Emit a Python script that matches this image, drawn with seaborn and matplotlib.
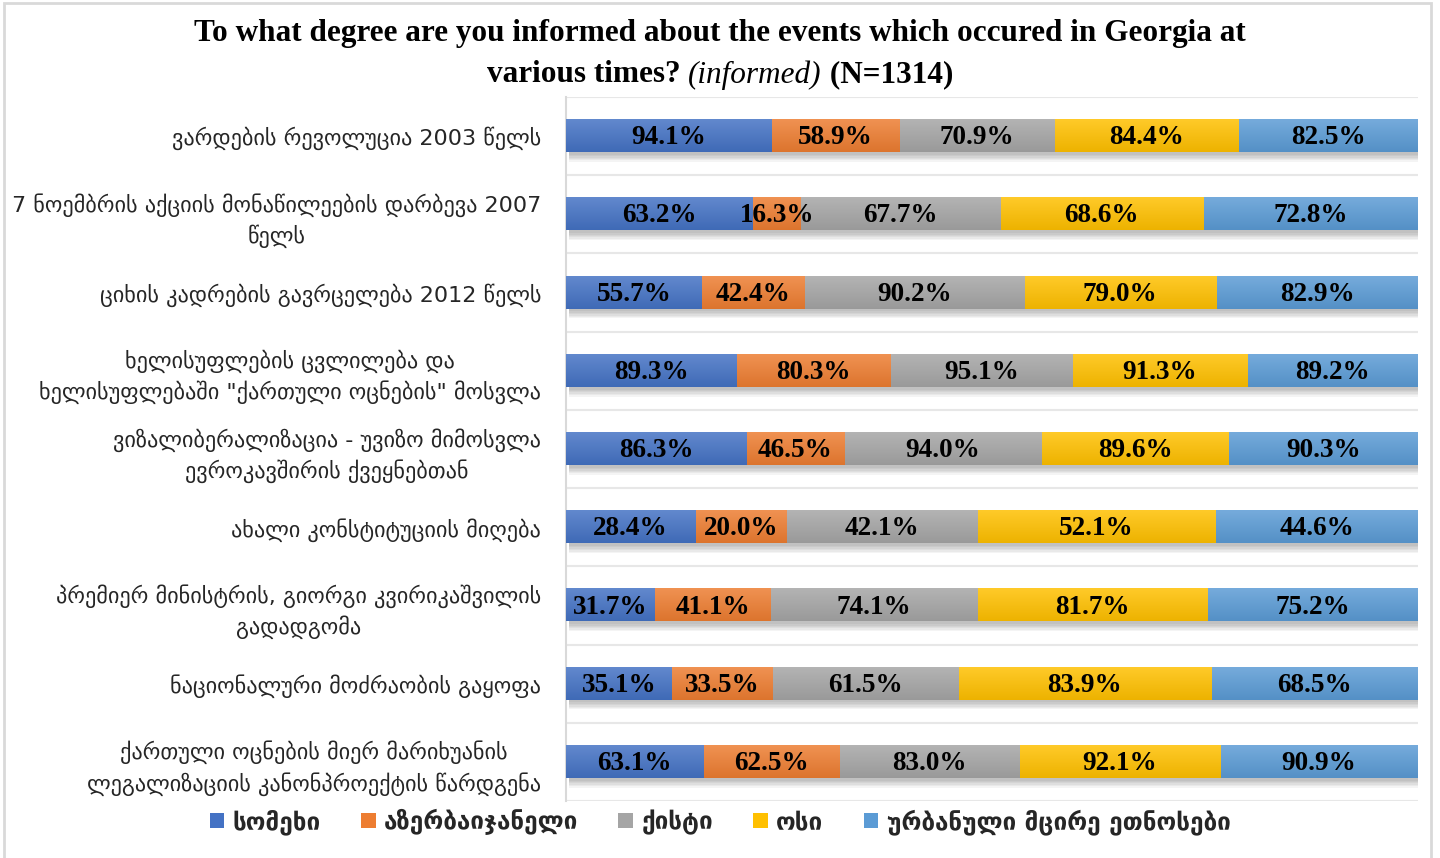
import numpy as np
import pandas as pd
import matplotlib
matplotlib.use("Agg")
import matplotlib.pyplot as plt
import matplotlib.patheffects as pe
from matplotlib.colors import LinearSegmentedColormap, to_rgb
from matplotlib.patches import Rectangle, Patch
import seaborn as sns

# ---- data -------------------------------------------------------------
events = [
    "ვარდების რევოლუცია 2003 წელს",
    "7 ნოემბრის აქციის მონაწილეების დარბევა 2007\nწელს",
    "ციხის კადრების გავრცელება 2012 წელს",
    "ხელისუფლების ცვლილება და\nხელისუფლებაში \"ქართული ოცნების\" მოსვლა",
    "ვიზალიბერალიზაცია - უვიზო მიმოსვლა\nევროკავშირის ქვეყნებთან",
    "ახალი კონსტიტუციის მიღება",
    "პრემიერ მინისტრის, გიორგი კვირიკაშვილის\nგადადგომა",
    "ნაციონალური მოძრაობის გაყოფა",
    "ქართული ოცნების მიერ მარიხუანის\nლეგალიზაციის კანონპროექტის წარდგენა",
]
groups = ["სომეხი", "აზერბაიჯანელი", "ქისტი", "ოსი", "ურბანული მცირე ეთნოსები"]
armenian = [94.1, 63.2, 55.7, 89.3, 86.3, 28.4, 31.7, 35.1, 63.1]
azerbaijani = [58.9, 16.3, 42.4, 80.3, 46.5, 20.0, 41.1, 33.5, 62.5]
kist = [70.9, 67.7, 90.2, 95.1, 94.0, 42.1, 74.1, 61.5, 83.0]
ossetian = [84.4, 68.6, 79.0, 91.3, 89.6, 52.1, 81.7, 83.9, 92.1]
urban_minorities = [82.5, 72.8, 82.9, 89.2, 90.3, 44.6, 75.2, 68.5, 90.9]

colors = ["#4472C4", "#ED7D31", "#A5A5A5", "#FFC000", "#5B9BD5"]

title_line1 = "To what degree are you informed about the events which occured in Georgia at"
title_line2 = ["various times? ", "(informed)", " (N=1314)"]

# ---- shares for the 100% stacked bars --------------------------------
df = pd.DataFrame(
    dict(zip(groups, [armenian, azerbaijani, kist, ossetian, urban_minorities])),
    index=events,
)
share = df.div(df.sum(axis=1), axis=0)
right = share.cumsum(axis=1)
left = right - share

sns.set_theme(style="white")
plt.rcParams["font.family"] = ["DejaVu Sans"]

W, H = 1440, 858
fig = plt.figure(figsize=(W / 100, H / 100), dpi=100)
ax = fig.add_axes([566 / W, 1 - 801 / H, 852 / W, 704 / H])


def shade(c, f):
    r = np.array(to_rgb(c))
    if f >= 0:
        return tuple(r + (1 - r) * f)
    return tuple(r * (1 + f))


grad = np.linspace(0, 1, 64).reshape(-1, 1)
n_rows = len(events)

# soft drop shadow built from several faint offset copies
shadow = [pe.SimplePatchShadow(offset=(2, -k), shadow_rgbFace="black", alpha=0.045)
          for k in (7, 6, 5, 4, 3, 2)] + [pe.Normal()]

# cumulative layers, longest first, each shorter layer painted over the last
for j, i in enumerate(reversed(range(len(groups)))):
    g = groups[i]
    n_before = len(ax.patches)
    sns.barplot(
        x=right[g].values, y=events, orient="h", color=colors[i],
        width=0.41, saturation=1, errorbar=None, ax=ax, zorder=2 + 2 * j,
        linewidth=0, edgecolor="none",
    )
    cmap = LinearSegmentedColormap.from_list(
        f"g{i}", [shade(colors[i], 0.16), shade(colors[i], -0.07)]
    )
    for p in ax.patches[n_before:]:
        if j == 0:
            p.set_path_effects(shadow)
        x0, y0 = p.get_x(), p.get_y()
        w, h = p.get_width(), p.get_height()
        ax.imshow(grad, cmap=cmap, aspect="auto", origin="upper",
                  extent=(x0, x0 + w, y0 + h, y0), zorder=3 + 2 * j,
                  interpolation="bilinear")

# value labels centred in each segment
for r, ev in enumerate(events):
    for g in groups:
        ax.text((left.loc[ev, g] + right.loc[ev, g]) / 2, r + 0.02,
                f"{df.loc[ev, g]:.1f}%", ha="center", va="center",
                fontsize=19.5, fontweight="bold", family="Liberation Serif",
                color="black", zorder=30)

# row separators
for y in np.arange(-0.5, n_rows, 1.0):
    ax.axhline(y, color="#E7E7E7", lw=1.5, zorder=1)

ax.set_xlim(0, 1)
ax.set_ylim(n_rows - 0.5, -0.5)
ax.set_xticks([])
ax.set_xlabel("")
ax.set_ylabel("")
for s in ["top", "right", "bottom"]:
    ax.spines[s].set_visible(False)
ax.spines["left"].set_color("#D9D9D9")
ax.spines["left"].set_linewidth(1.5)

ax.set_yticks(range(n_rows))
ax.set_yticklabels(events, fontsize=16, color="#262626", linespacing=1.4)
for lbl in ax.get_yticklabels():
    lbl.set_multialignment("center")
ax.tick_params(axis="y", length=0, pad=18)

# title
fig.text(0.5, 1 - 34 / H, title_line1, ha="center", va="center",
         fontsize=22.5, fontweight="bold", family="Liberation Serif", color="black")
styles = [dict(fontweight="bold", fontstyle="normal"),
          dict(fontweight="normal", fontstyle="italic"),
          dict(fontweight="bold", fontstyle="normal")]
pieces = [fig.text(0, 1 - 75 / H, t, ha="left", va="center", fontsize=22.5,
                   family="Liberation Serif", color="black", **st)
          for t, st in zip(title_line2, styles)]
fig.canvas.draw()
rend = fig.canvas.get_renderer()
widths = [p.get_window_extent(rend).width for p in pieces]
x = (W - sum(widths)) / 2
for p, w in zip(pieces, widths):
    p.set_x(x / W)
    x += w

# legend
handles = [Patch(facecolor=c, edgecolor="none") for c in colors]
fig.legend(handles, groups, loc="center", bbox_to_anchor=(0.5, 1 - 822 / H),
           ncol=5, frameon=False,
           prop={"family": "DejaVu Sans", "weight": "bold", "size": 17.5},
           handlelength=0.6, handleheight=0.6, handletextpad=0.35,
           columnspacing=1.65)

# outer frame
fig.patches.append(Rectangle((4 / W, -0.01), (1431 - 4) / W, 1.01 - 3 / H,
                             transform=fig.transFigure, fill=False,
                             edgecolor="#D9D9D9", lw=2))

fig.savefig("out.png", dpi=100)
